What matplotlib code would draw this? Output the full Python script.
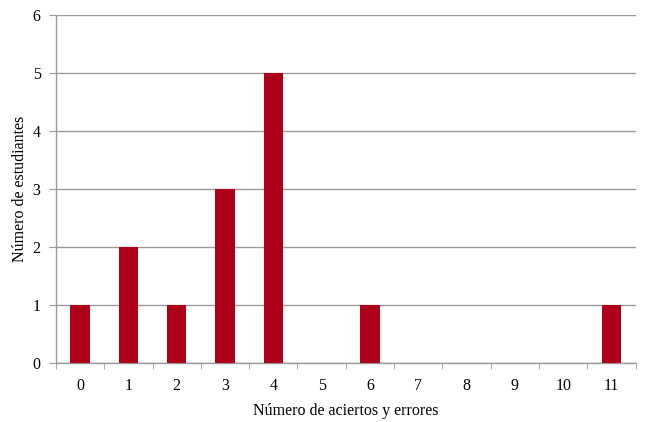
import numpy as np
import matplotlib
matplotlib.use("Agg")
import matplotlib.pyplot as plt

# data
aciertos = [0, 1, 2, 3, 4, 5, 6, 7, 8, 9, 10, 11]
estudiantes = [1, 2, 1, 3, 5, 0, 1, 0, 0, 0, 0, 1]
y_ticks = [0, 1, 2, 3, 4, 5, 6]

plt.rcParams['font.family'] = ['Liberation Serif', 'DejaVu Serif']

fig = plt.figure(figsize=(6.5, 4.22), dpi=100)
ax = fig.add_axes([0.086, 0.140, 0.892, 0.824])

x = np.arange(len(aciertos))
ax.bar(x, estudiantes, width=0.4, color='#AF0019', zorder=3)

ax.set_xlim(-0.5, len(aciertos) - 0.5)
ax.set_ylim(0, 6)
ax.set_yticks(y_ticks)
ax.yaxis.grid(True, color='#999999', linewidth=1.0, zorder=0)

ax.set_xticks(x)
ax.set_xticklabels([str(a) for a in aciertos])
ax.set_xticks(np.arange(-0.5, len(aciertos)), minor=True)
ax.tick_params(axis='x', which='major', length=0, pad=11, labelsize=11.5)
ax.tick_params(axis='x', which='minor', length=4, color='#999999', direction='out')
ax.tick_params(axis='y', length=5, color='#999999', labelsize=11.5, pad=6)

for side in ['top', 'right']:
    ax.spines[side].set_visible(False)
for side in ['left', 'bottom']:
    ax.spines[side].set_color('#999999')
    ax.spines[side].set_linewidth(1.0)

ax.set_xlabel('Número de aciertos y errores', fontsize=11.5, labelpad=6)
ax.set_ylabel('Número de estudiantes', fontsize=11.5, labelpad=3)

fig.savefig('out.png', dpi=100)
